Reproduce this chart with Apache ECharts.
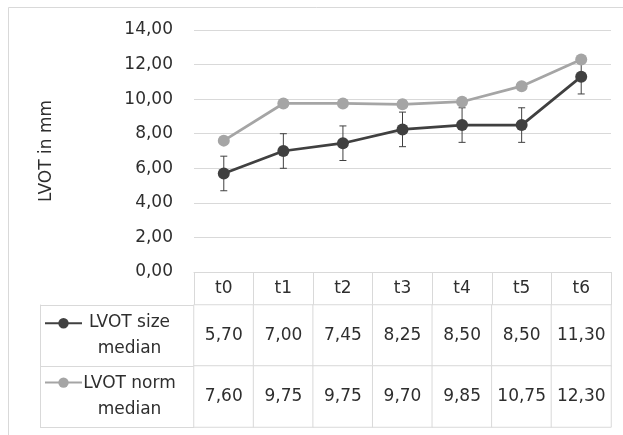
<!DOCTYPE html>
<html>
<head>
<meta charset="utf-8">
<script src="https://cdn.jsdelivr.net/npm/echarts@6/dist/echarts.min.js"></script>
<style>
  html, body { margin: 0; padding: 0; background: #ffffff; }
  #chart { width: 623px; height: 435px; }
</style>
</head>
<body>
<div id="chart"></div>
<script>
// Time points and medians of the LVOT diameter (mm)
const timepoints = ['t0', 't1', 't2', 't3', 't4', 't5', 't6'];
const sizeMedian = [5.70, 7.00, 7.45, 8.25, 8.50, 8.50, 11.30];
const sizeError = [1, 1, 1, 1, 1, 1, 1];
const normMedian = [7.60, 9.75, 9.75, 9.70, 9.85, 10.75, 12.30];
const seriesNames = ['LVOT size median', 'LVOT norm median'];
const yMin = 0, yMax = 14, yStep = 2;

const FONT = 'DejaVu Sans';
const TEXT = '#2e2e2e';
const RULE = '#d9d9d9';
const DARK = '#404040';
const LIGHT = '#a5a5a5';

const fmt = v => v.toFixed(2).replace('.', ',');
const twoLines = s => s.replace(/ (\S+)$/, '\n$1');

const tableRows = [sizeMedian, normMedian];
const tableCells = [];
tableRows.forEach((row, r) => row.forEach((v, c) => tableCells.push([c, r, v])));

const chart = echarts.init(document.getElementById('chart'), null, { renderer: 'canvas' });

chart.setOption({
  animation: false,
  backgroundColor: '#ffffff',
  textStyle: { fontFamily: FONT },
  graphic: [{
    type: 'rect',
    shape: { x: 8.5, y: 7.5, width: 800, height: 600 },
    style: { fill: 'none', stroke: RULE, lineWidth: 1 },
    silent: true
  }],
  legend: {
    data: seriesNames,
    orient: 'vertical',
    left: 39,
    top: 313,
    itemWidth: 37,
    itemHeight: 13,
    itemGap: 49,
    selectedMode: false,
    formatter: () => ' ',
    textStyle: { fontSize: 10 }
  },
  grid: [
    { left: 194, right: 12, top: 30, bottom: 163 },
    { left: 194, right: 12, top: 305, bottom: 8 }
  ],
  xAxis: [
    {
      type: 'category',
      gridIndex: 0,
      data: timepoints,
      boundaryGap: true,
      axisLine: { show: true, lineStyle: { color: RULE, width: 1 } },
      axisTick: { show: true, interval: 0, length: 33, lineStyle: { color: RULE } },
      axisLabel: { margin: 17, verticalAlign: 'middle', color: TEXT, fontSize: 17, fontFamily: FONT }
    },
    {
      type: 'category',
      gridIndex: 1,
      data: timepoints,
      show: false
    }
  ],
  yAxis: [
    {
      type: 'value',
      gridIndex: 0,
      min: yMin,
      max: yMax,
      interval: yStep,
      axisLine: { show: false },
      axisTick: { show: false },
      splitLine: { show: true, lineStyle: { color: RULE, width: 1 } },
      axisLabel: { margin: 21, color: TEXT, fontSize: 17, fontFamily: FONT, formatter: v => fmt(v) },
      name: 'LVOT in mm',
      nameLocation: 'middle',
      nameRotate: 90,
      nameGap: 139,
      nameTextStyle: { color: TEXT, fontSize: 17, fontFamily: FONT }
    },
    {
      type: 'category',
      gridIndex: 1,
      data: seriesNames,
      inverse: true,
      axisLine: { show: false },
      axisTick: { show: true, interval: 0, length: 154, lineStyle: { color: RULE } },
      axisLabel: {
        margin: 64.5, align: 'center', lineHeight: 26,
        color: TEXT, fontSize: 17, fontFamily: FONT,
        formatter: s => twoLines(s)
      }
    },
    {
      type: 'value',
      gridIndex: 1,
      position: 'left',
      offset: 154,
      axisLine: { show: true, lineStyle: { color: RULE } },
      axisTick: { show: false },
      axisLabel: { show: false },
      splitLine: { show: false }
    }
  ],
  series: [
    {
      name: 'error',
      type: 'custom',
      xAxisIndex: 0,
      yAxisIndex: 0,
      z: 1,
      silent: true,
      data: timepoints.map((t, i) => [i, sizeMedian[i], sizeError[i]]),
      encode: { x: 0, y: 1 },
      renderItem: (params, api) => {
        const i = api.value(0), v = api.value(1), e = api.value(2);
        const top = api.coord([i, v + e]);
        const bot = api.coord([i, v - e]);
        const w = 3.5;
        const st = { stroke: DARK, lineWidth: 1 };
        return {
          type: 'group',
          children: [
            { type: 'line', shape: { x1: top[0], y1: top[1], x2: bot[0], y2: bot[1] }, style: st },
            { type: 'line', shape: { x1: top[0] - w, y1: top[1], x2: top[0] + w, y2: top[1] }, style: st },
            { type: 'line', shape: { x1: bot[0] - w, y1: bot[1], x2: bot[0] + w, y2: bot[1] }, style: st }
          ]
        };
      }
    },
    {
      name: seriesNames[0],
      type: 'line',
      xAxisIndex: 0,
      yAxisIndex: 0,
      z: 3,
      data: sizeMedian,
      symbol: 'circle',
      symbolSize: 12,
      lineStyle: { color: DARK, width: 2.75 },
      itemStyle: { color: DARK },
      emphasis: { disabled: true }
    },
    {
      name: seriesNames[1],
      type: 'line',
      xAxisIndex: 0,
      yAxisIndex: 0,
      z: 3,
      data: normMedian,
      symbol: 'circle',
      symbolSize: 12,
      lineStyle: { color: LIGHT, width: 2.75 },
      itemStyle: { color: LIGHT },
      emphasis: { disabled: true }
    },
    {
      name: 'table',
      type: 'heatmap',
      xAxisIndex: 1,
      yAxisIndex: 1,
      data: tableCells,
      itemStyle: { color: '#ffffff', borderColor: RULE, borderWidth: 1 },
      label: {
        show: true,
        color: TEXT,
        fontSize: 17,
        fontFamily: FONT,
        formatter: p => fmt(p.value[2])
      },
      emphasis: { disabled: true },
      silent: true
    }
  ]
});
</script>
</body>
</html>
